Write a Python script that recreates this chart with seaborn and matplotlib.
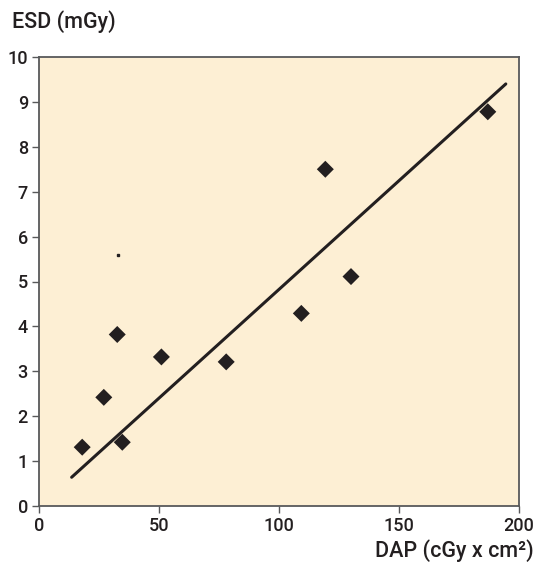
import numpy as np
import pandas as pd
import matplotlib
matplotlib.use("Agg")
import matplotlib.pyplot as plt
import seaborn as sns

# values
dap = [18, 27, 32.6, 34.7, 51, 78, 109.3, 119.3, 130, 187]
esd = [1.31, 2.42, 3.82, 1.42, 3.32, 3.21, 4.29, 7.5, 5.11, 8.78]
fit_x = [13.6, 194.5]
fit_y = [0.64, 9.40]
stray_x = [33]
stray_y = [5.6]
x_ticks = [0, 50, 100, 150, 200]
y_ticks = list(range(0, 11))

sns.set_style("ticks")
plt.rcParams['font.family'] = ['Roboto', 'Liberation Sans', 'DejaVu Sans']
plt.rcParams['font.weight'] = 'medium'

df = pd.DataFrame({'DAP': dap, 'ESD': esd})
fit = pd.DataFrame({'x': fit_x, 'y': fit_y})

fig = plt.figure(figsize=(5.35, 5.64), dpi=100)
ax = fig.add_axes([39 / 535, 1 - 506 / 564, 480 / 535, 449 / 564])
ax.set_facecolor('#fdefd4')

sns.lineplot(data=fit, x='x', y='y', ax=ax, color='#231f20', linewidth=2.2)
sns.scatterplot(data=df, x='DAP', y='ESD', ax=ax, marker='D', s=75,
                color='#231f20', edgecolor='none')
ax.plot(stray_x, stray_y, marker='s', markersize=1.6, color='#231f20', linestyle='none')

ax.set_xlim(0, 200)
ax.set_ylim(0, 10)
ax.set_xticks(x_ticks)
ax.set_yticks(y_ticks)
ax.set_xlabel('')
ax.set_ylabel('')
ax.tick_params(labelsize=13, colors='#231f20', length=5, width=1,
               color='#58595b', pad=3)
for sp in ax.spines.values():
    sp.set_visible(True)
    sp.set_color('#58595b')
    sp.set_linewidth(1.3)

fig.text(12 / 535, 1 - 22 / 564, 'ESD (mGy)', fontsize=15.5, color='#231f20',
         ha='left', va='center')
fig.text(534 / 535, 1 - 551 / 564, 'DAP (cGy x cm²)', fontsize=15.5,
         color='#231f20', ha='right', va='center')

fig.savefig('out.png', dpi=100)
